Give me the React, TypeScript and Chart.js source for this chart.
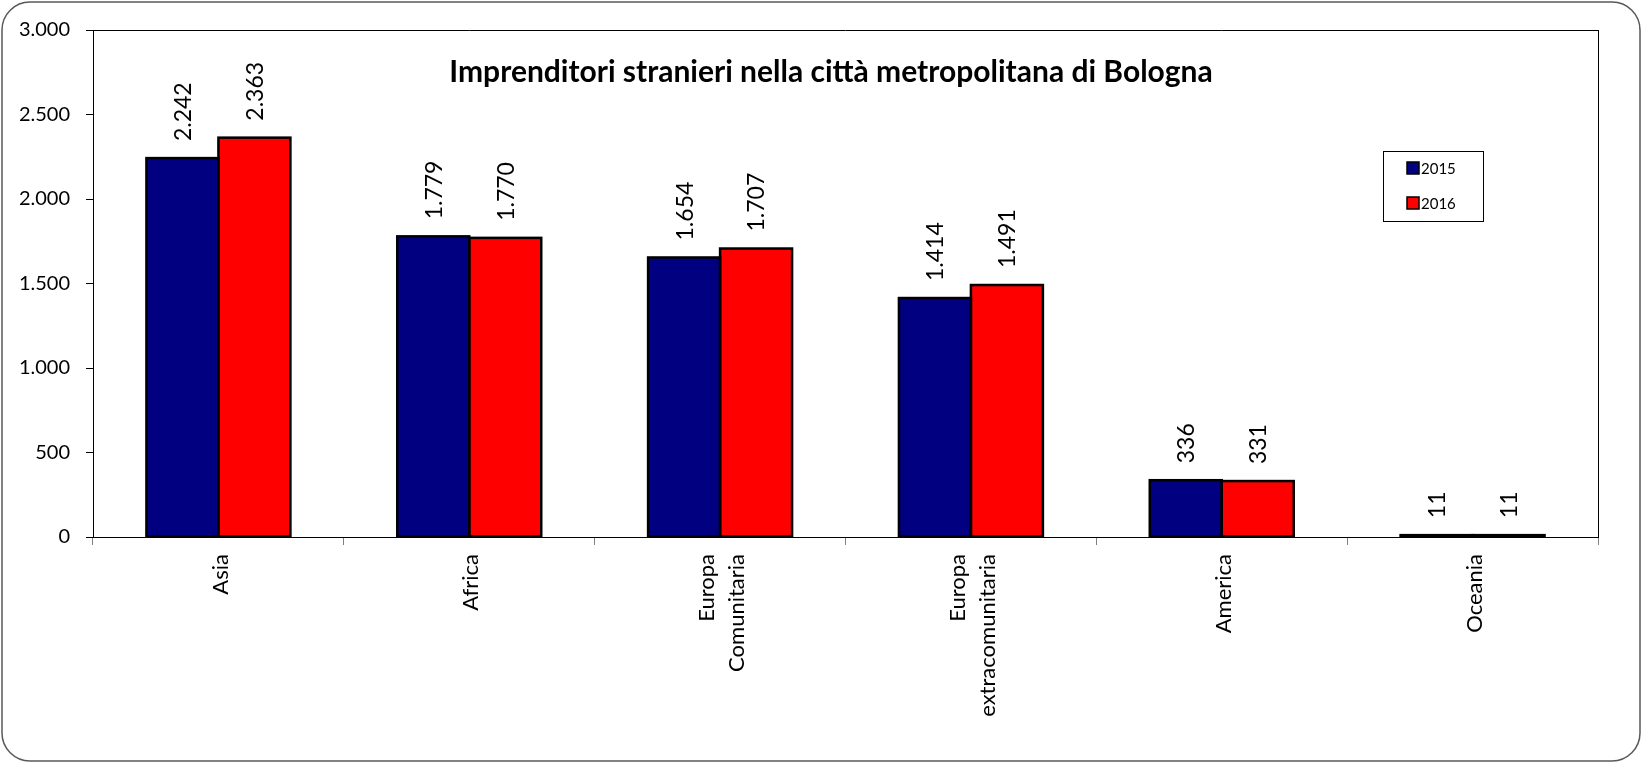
import { useEffect, useRef } from 'react';
import { Chart, registerables } from 'chart.js';

Chart.register(...registerables);

const titleText = 'Imprenditori stranieri nella città metropolitana di Bologna';
const categories: string[][] = [
  ['Asia'],
  ['Africa'],
  ['Europa', 'Comunitaria'],
  ['Europa', 'extracomunitaria'],
  ['America'],
  ['Oceania'],
];
const seriesLabels = ['2015', '2016'];
const values2015 = [2242, 1779, 1654, 1414, 336, 11];
const values2016 = [2363, 1770, 1707, 1491, 331, 11];
const seriesColors = ['#000080', '#FF0000'];
const yMin = 0;
const yMax = 3000;
const yStep = 500;

const FONT = 'Lato, "Noto Sans", sans-serif';

function fmt(v: number): string {
  const s = Math.round(v).toString();
  return s.replace(/\B(?=(\d{3})+(?!\d))/g, '.');
}

const frameAndTitlePlugin = {
  id: 'frameAndTitle',
  afterDraw(chart: any) {
    const { ctx, chartArea } = chart;
    ctx.save();
    // plot area top/right border
    ctx.strokeStyle = '#000';
    ctx.lineWidth = 1;
    ctx.beginPath();
    ctx.moveTo(chartArea.left, Math.round(chartArea.top) + 0.5);
    ctx.lineTo(chartArea.right, Math.round(chartArea.top) + 0.5);
    ctx.moveTo(Math.round(chartArea.right) + 0.5, chartArea.top);
    ctx.lineTo(Math.round(chartArea.right) + 0.5, chartArea.bottom);
    ctx.stroke();

    // x category labels (rotated, multi-line centred on the category)
    const xScale = chart.scales.x;
    const fontSize = 22;
    const lineGap = 30;
    ctx.fillStyle = '#000';
    ctx.font = `${fontSize}px ${FONT}`;
    ctx.textAlign = 'right';
    ctx.textBaseline = 'middle';
    const labels = chart.data.labels as string[][];
    labels.forEach((lab: string[], i: number) => {
      const cx = xScale.getPixelForTick(i) + 2;
      const n = lab.length;
      lab.forEach((line: string, j: number) => {
        const lx = cx + (j - (n - 1) / 2) * lineGap;
        ctx.save();
        ctx.translate(lx, xScale.top + 17);
        ctx.rotate(-Math.PI / 2);
        ctx.fillText(line, 0, 0);
        ctx.restore();
      });
    });

    // outer rounded frame
    const w = chart.width;
    const h = chart.height;
    const r = 28;
    const x0 = 2, y0 = 2, x1 = w - 2, y1 = h - 2;
    ctx.strokeStyle = '#595959';
    ctx.lineWidth = 1.5;
    ctx.beginPath();
    ctx.moveTo(x0 + r, y0);
    ctx.lineTo(x1 - r, y0);
    ctx.arcTo(x1, y0, x1, y0 + r, r);
    ctx.lineTo(x1, y1 - r);
    ctx.arcTo(x1, y1, x1 - r, y1, r);
    ctx.lineTo(x0 + r, y1);
    ctx.arcTo(x0, y1, x0, y1 - r, r);
    ctx.lineTo(x0, y0 + r);
    ctx.arcTo(x0, y0, x0 + r, y0, r);
    ctx.closePath();
    ctx.stroke();

    // title
    ctx.fillStyle = '#000';
    ctx.font = `bold 30px ${FONT}`;
    ctx.textAlign = 'center';
    ctx.textBaseline = 'middle';
    ctx.fillText(titleText, 831, 72);

    // legend
    const lx = 1383, ly = 151, lw = 100, lh = 70;
    ctx.fillStyle = '#fff';
    ctx.fillRect(lx, ly, lw, lh);
    ctx.strokeStyle = '#000';
    ctx.lineWidth = 1;
    ctx.strokeRect(lx + 0.5, ly + 0.5, lw, lh);
    chart.data.datasets.forEach((ds: any, i: number) => {
      const cy = ly + 17 + i * 35;
      ctx.fillStyle = ds.backgroundColor;
      ctx.fillRect(lx + 24, cy - 6, 12, 12);
      ctx.strokeStyle = '#000';
      ctx.lineWidth = 1.5;
      ctx.strokeRect(lx + 24, cy - 6, 12, 12);
      ctx.fillStyle = '#000';
      ctx.font = `15px ${FONT}`;
      ctx.textAlign = 'left';
      ctx.textBaseline = 'middle';
      ctx.fillText(ds.label, lx + 38, cy + 1);
    });
    ctx.restore();
  },
  afterDatasetsDraw(chart: any) {
    const { ctx } = chart;
    ctx.save();
    // bar outlines (also visible on very short bars)
    ctx.strokeStyle = '#000';
    ctx.lineWidth = 2.5;
    chart.data.datasets.forEach((_ds: any, di: number) => {
      const meta = chart.getDatasetMeta(di);
      meta.data.forEach((bar: any) => {
        const left = bar.x - bar.width / 2;
        const top = Math.min(bar.y, bar.base);
        const h = Math.abs(bar.base - bar.y);
        ctx.strokeRect(left, top, bar.width, h);
      });
    });
    // value labels
    ctx.fillStyle = '#000';
    ctx.font = `23px ${FONT}`;
    ctx.textAlign = 'left';
    ctx.textBaseline = 'middle';
    chart.data.datasets.forEach((ds: any, di: number) => {
      const meta = chart.getDatasetMeta(di);
      meta.data.forEach((bar: any, i: number) => {
        ctx.save();
        ctx.translate(bar.x + 1, bar.y - 17);
        ctx.rotate(-Math.PI / 2);
        ctx.fillText(fmt(ds.data[i]), 0, 0);
        ctx.restore();
      });
    });
    ctx.restore();
  },
};

export default function App() {
  const ref = useRef<HTMLCanvasElement | null>(null);
  useEffect(() => {
    if (!ref.current) return;
    const chart = new Chart(ref.current, {
      type: 'bar',
      data: {
        labels: categories as any,
        datasets: [
          {
            label: seriesLabels[0],
            data: values2015,
            backgroundColor: seriesColors[0],
            borderWidth: 0,
            categoryPercentage: 0.574,
            barPercentage: 1.0,
          },
          {
            label: seriesLabels[1],
            data: values2016,
            backgroundColor: seriesColors[1],
            borderWidth: 0,
            categoryPercentage: 0.574,
            barPercentage: 1.0,
          },
        ],
      },
      options: {
        responsive: false,
        animation: false,
        devicePixelRatio: 1,
        layout: { padding: { left: 0, top: 30, right: 44, bottom: 0 } },
        plugins: {
          legend: { display: false },
          title: { display: false },
          tooltip: { enabled: false },
        },
        scales: {
          x: {
            afterFit: (scale: any) => {
              scale.height = 226;
            },
            grid: {
              offset: true,
              drawOnChartArea: false,
              drawTicks: true,
              tickLength: 8,
              color: '#808080',
            },
            border: { display: true, color: '#000', width: 1 },
            ticks: {
              display: false,
              autoSkip: false,
            },
          },
          y: {
            min: yMin,
            max: yMax,
            afterFit: (scale: any) => {
              scale.width = 93;
            },
            grid: {
              drawOnChartArea: false,
              drawTicks: true,
              tickLength: 7,
              color: '#000',
            },
            border: { display: true, color: '#000', width: 1 },
            ticks: {
              stepSize: yStep,
              padding: 16,
              color: '#000',
              font: { family: FONT, size: 20 },
              callback: (v: any) => fmt(Number(v)),
            },
          },
        },
      },
      plugins: [frameAndTitlePlugin],
    });
    return () => chart.destroy();
  }, []);
  return (
    <div style={{ position: 'absolute', left: 0, top: 0, width: 1642, height: 763, background: '#fff' }}>
      <canvas ref={ref} width={1642} height={763} />
    </div>
  );
}
